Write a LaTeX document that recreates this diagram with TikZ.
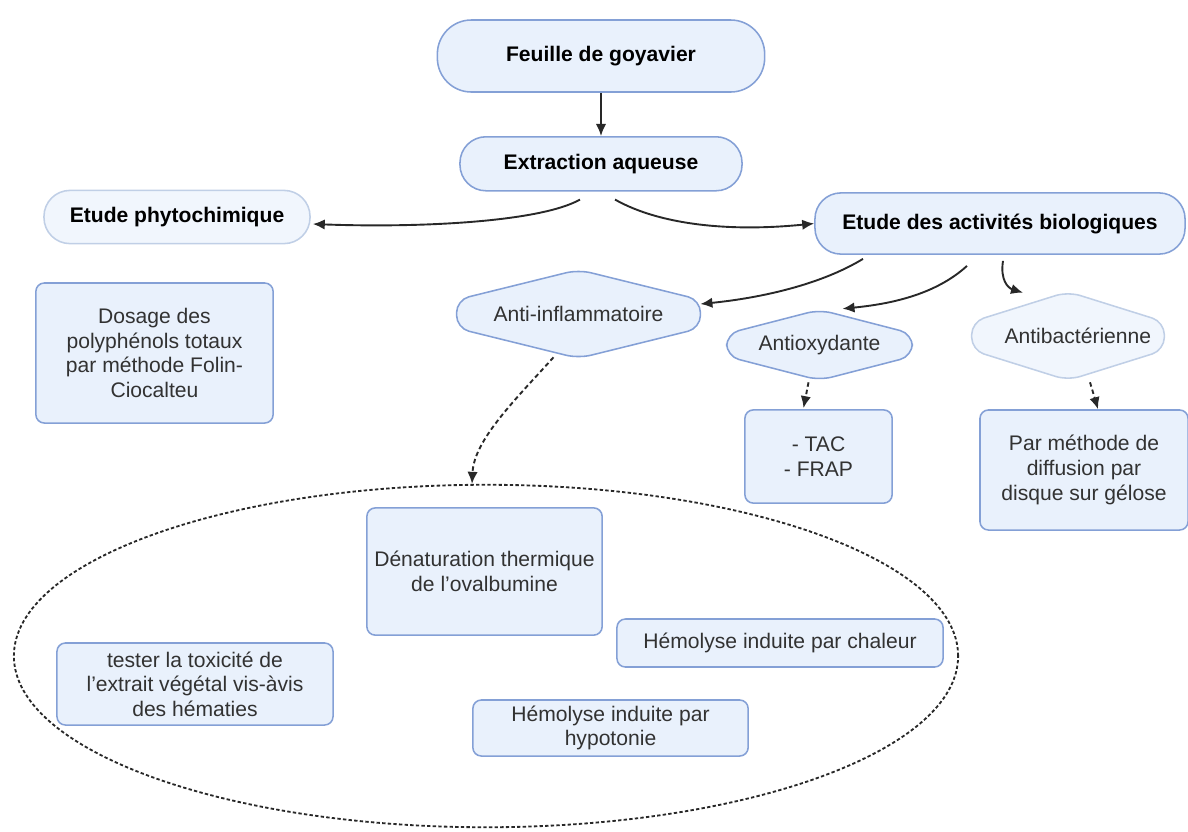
\documentclass[tikz,border=0pt]{standalone}
\usepackage{fontspec}
\setmainfont{Liberation Sans}
\setsansfont{Liberation Sans}
\usepackage{tikz}
\usetikzlibrary{arrows.meta,positioning,calc,backgrounds,shapes.geometric}
\definecolor{gvedge}{RGB}{132,160,214}
\definecolor{gvsoft}{RGB}{192,207,230}
\definecolor{gvfill}{RGB}{233,241,252}
\definecolor{gvpale}{RGB}{241,246,253}
\definecolor{gvink}{RGB}{40,40,40}
\definecolor{gvtxt}{RGB}{50,50,50}
\tikzset{
  gvbox/.style={
    draw=gvedge, fill=gvfill, line width=1.1pt, rounded corners=6pt,
    align=center, inner sep=3pt, text=gvtxt,
    font=\fontsize{15}{17.5}\selectfont
  },
  pill/.style={gvbox, rounded corners=0.65cm, text=black,
    font=\fontsize{15}{17.5}\selectfont\bfseries},
  softpill/.style={pill, draw=gvsoft, fill=gvpale},
  hexlbl/.style={align=center, inner sep=0pt, text=gvtxt,
    font=\fontsize{15}{17.5}\selectfont},
  hexline/.style={draw=gvedge, fill=gvfill, line width=1.1pt, rounded corners=9pt},
  softhex/.style={hexline, draw=gvsoft, fill=gvpale},
  arr/.style={-{Latex[length=3mm,width=2.6mm]}, draw=gvink, line width=1.35pt},
  darr/.style={arr, dash pattern=on 3.2pt off 2.2pt},
  grp/.style={ellipse, draw=gvink, line width=1.3pt, dash pattern=on 2.4pt off 1.6pt,
    inner sep=0pt}
}
% hexagon round a named node
\newcommand\gvhex[2]{%
  \draw[#2] (#1.north) -- ($(#1.north east)!0.34!(#1.south east)$)
    -- ($(#1.north east)!0.66!(#1.south east)$) -- (#1.south)
    -- ($(#1.north west)!0.66!(#1.south west)$)
    -- ($(#1.north west)!0.34!(#1.south west)$) -- cycle;}

\begin{document}
\begin{tikzpicture}[x=0.025cm, y=-0.025cm, node distance=1.08cm]
  \useasboundingbox (0,0) rectangle (1188,831);

  % top of the chart
  \node[pill, minimum width=8.18cm, minimum height=1.8cm, rounded corners=0.85cm] (feu) at (601,56) {Feuille de goyavier};
  \node[pill, minimum width=7.05cm, minimum height=1.35cm, below=of feu] (ext) {Extraction aqueuse};
  \node[softpill, minimum width=6.65cm, minimum height=1.33cm] (phy) at (177,217) {Etude phytochimique};
  \node[pill, minimum width=9.25cm, minimum height=1.53cm] (bio) at (1000,223.5) {Etude des activités biologiques};

  \node[gvbox, minimum width=5.93cm, minimum height=3.5cm] (dos) at (154.5,353) {Dosage des\\polyphénols totaux\\par méthode Folin-\\Ciocalteu};

  % activities
  \node[hexlbl, minimum width=6.08cm, minimum height=2.2cm] (ainf) at (578.5,314) {Anti-inflammatoire};
  \node[hexlbl, minimum width=4.63cm, minimum height=1.75cm] (aox) at (819.5,345) {Antioxydante};
  \node[hexlbl, minimum width=4.8cm, minimum height=2.2cm] (abac) at (1068,336) {\hspace*{14pt}Antibactérienne};
  \begin{scope}[on background layer]
    \gvhex{ainf}{hexline}
    \gvhex{aox}{hexline}
    \gvhex{abac}{softhex}
  \end{scope}

  \node[gvbox, minimum width=3.68cm, minimum height=2.33cm] (tac) at (818.5,456.5) {- TAC\\- FRAP};
  \node[gvbox, minimum width=5.2cm, minimum height=3.0cm] (disq) at (1084,470) {Par méthode de\\diffusion par\\disque sur gélose};

  % anti-inflammatory tests
  \node[grp, minimum width=23.6cm, minimum height=8.56cm] (zone) at (486,656) {};
  \node[gvbox, minimum width=5.88cm, minimum height=3.18cm] (denat) at (484.5,571.5) {Dénaturation thermique\\de l'ovalbumine};
  \node[gvbox, minimum width=8.15cm, minimum height=1.2cm] (chal) at (780,643) {Hémolyse induite par chaleur};
  \node[gvbox, minimum width=6.9cm, minimum height=2.05cm] (tox) at (195,684) {tester la toxicité de\\l'extrait végétal vis-àvis\\des hématies};
  \node[gvbox, minimum width=6.88cm, minimum height=1.4cm] (hypo) at (610.5,728) {Hémolyse induite par\\hypotonie};

  % connectors
  \draw[arr] (feu.south) -- (ext.north);
  \draw[arr] ($(ext.south)+(-21,8)$) .. controls (540,222) and (420,228) .. ($(phy.east)+(2,7)$);
  \draw[arr] ($(ext.south)+(14,8)$) .. controls (660,225) and (730,232) .. (bio.west);
  \draw[arr] ($(bio.south)+(-137,4)$) .. controls (820,285) and (760,298) .. ($(ainf.east)+(0,-10)$);
  \draw[arr] ($(bio.south)+(-33,11)$) .. controls (935,295) and (890,304) .. ($(aox.north)+(23,-1)$);
  \draw[arr] ($(bio.south)+(3,6)$) .. controls (1000,280) and (1008,288) .. ($(abac.north)+(-45,1)$);
  \draw[darr] ($(ainf.south)+(-25,-1)$) .. controls (515,400) and (474,440) .. ($(zone.north)+(-14,0)$);
  \draw[darr] ($(aox.south)+(-11,2)$) -- ($(tac.north)+(-15,-1)$);
  \draw[darr] ($(abac.south)+(22,2)$) -- ($(disq.north)+(14,0)$);
\end{tikzpicture}
\end{document}
